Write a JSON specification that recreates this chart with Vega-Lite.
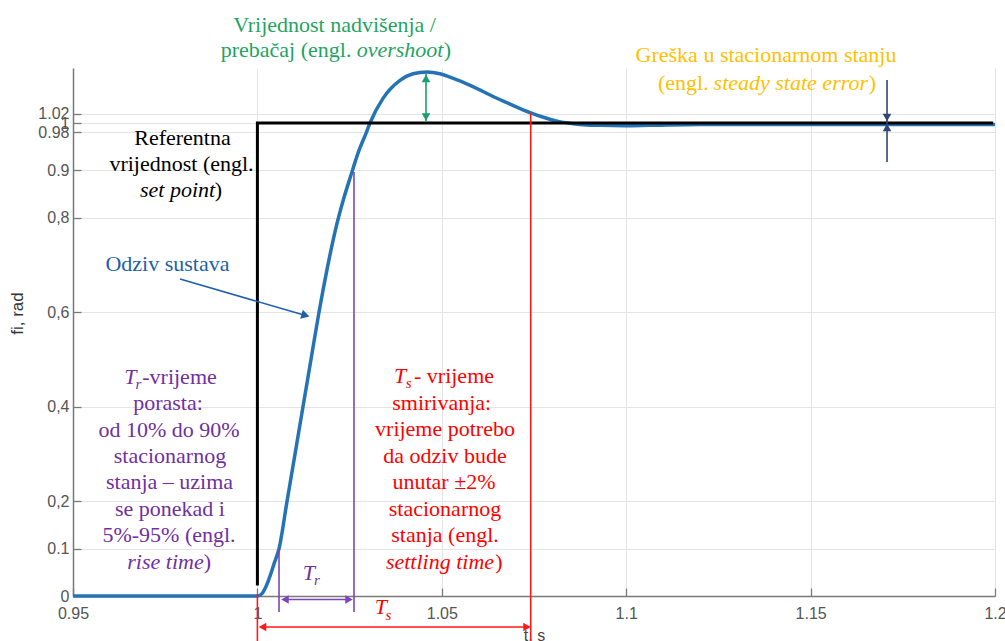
{
  "$schema": "https://vega.github.io/schema/vega-lite/v6.json",
  "width": 922,
  "height": 528,
  "autosize": {"type": "none"},
  "padding": {"left": 73, "top": 68, "right": 10, "bottom": 45},
  "background": "white",
  "config": {"view": {"stroke": null}},
  "datasets": {
    "resp": [
      {"t": 0.95, "v": 0}, {"t": 1.0, "v": 0}, {"t": 1.00125, "v": 0.005}, {"t": 1.00233, "v": 0.02},
      {"t": 1.00342, "v": 0.042}, {"t": 1.0045, "v": 0.068}, {"t": 1.00586, "v": 0.1}, {"t": 1.00803, "v": 0.2},
      {"t": 1.0102, "v": 0.3}, {"t": 1.01236, "v": 0.4}, {"t": 1.01453, "v": 0.5}, {"t": 1.0167, "v": 0.6},
      {"t": 1.01887, "v": 0.69}, {"t": 1.02104, "v": 0.77}, {"t": 1.02321, "v": 0.835}, {"t": 1.02538, "v": 0.89},
      {"t": 1.02755, "v": 0.942}, {"t": 1.02945, "v": 0.978}, {"t": 1.03053, "v": 1.0}, {"t": 1.03406, "v": 1.052},
      {"t": 1.03867, "v": 1.09}, {"t": 1.04219, "v": 1.104}, {"t": 1.04599, "v": 1.108}, {"t": 1.04951, "v": 1.104},
      {"t": 1.05222, "v": 1.097}, {"t": 1.05846, "v": 1.077}, {"t": 1.06388, "v": 1.056}, {"t": 1.06849, "v": 1.04},
      {"t": 1.07392, "v": 1.022}, {"t": 1.07798, "v": 1.011}, {"t": 1.08124, "v": 1.004}, {"t": 1.08747, "v": 0.997},
      {"t": 1.0929, "v": 0.995}, {"t": 1.09967, "v": 0.994}, {"t": 1.10645, "v": 0.995}, {"t": 1.12001, "v": 0.997},
      {"t": 1.13357, "v": 0.997}, {"t": 1.14713, "v": 0.997}, {"t": 1.17424, "v": 0.997}, {"t": 1.2, "v": 0.997}
    ],
    "ref": [
      {"t": 1.0, "v": 0.022, "i": 0}, {"t": 1.0, "v": 1.0, "i": 1}, {"t": 1.1995, "v": 1.0, "i": 2}
    ],
    "segs": [
      {"s": "green", "t": 1.04572, "v": 1.1036, "t2": 1.04572, "v2": 1.0021},
      {"s": "navy", "t": 1.17072, "v": 1.09091, "t2": 1.17072, "v2": 0.91755},
      {"s": "blue", "t": 0.97901, "v": 0.67019, "t2": 1.01237, "v2": 0.59471},
      {"s": "purple", "t": 1.00586, "v": 0.1, "t2": 1.00586, "v2": -0.03383},
      {"s": "purple", "t": 1.02619, "v": 0.89641, "t2": 1.02619, "v2": -0.03383},
      {"s": "purple", "t": 1.00749, "v": -0.0074, "t2": 1.02484, "v2": -0.0074},
      {"s": "red", "t": 1.0, "v": 0.0042, "t2": 1.0, "v2": -0.1},
      {"s": "red", "t": 1.07411, "v": 1.02114, "t2": 1.07411, "v2": -0.1},
      {"s": "red", "t": 1.00138, "v": -0.06554, "t2": 1.0731, "v2": -0.06554}
    ],
    "heads": [
      {"s": "green", "dir": "up", "t": 1.04572, "v": 1.09408},
      {"s": "green", "dir": "down", "t": 1.04572, "v": 1.01268},
      {"s": "navy", "dir": "down", "t": 1.17072, "v": 1.01163},
      {"s": "navy", "dir": "up", "t": 1.17072, "v": 0.99049},
      {"s": "purple", "dir": "left", "t": 1.00749, "v": -0.0074},
      {"s": "purple", "dir": "right", "t": 1.02484, "v": -0.0074},
      {"s": "red", "dir": "left", "t": 1.00138, "v": -0.06554},
      {"s": "red", "dir": "right", "t": 1.0731, "v": -0.06554}
    ],
    "blueHead": [{"t": 1.01304, "v": 0.59323}],
    "greenN": [
      {"t": 1.02091, "v": 1.19239, "txt": "Vrijednost nadvišenja /"},
      {"t": 1.00776, "v": 1.13953, "txt": "prebačaj (engl."},
      {"t": 1.05155, "v": 1.13953, "txt": ")"}
    ],
    "greenI": [{"t": 1.03867, "v": 1.13953, "txt": "overshoot"}],
    "blackN": [
      {"t": 0.97969, "v": 0.95349, "txt": "Referentna"},
      {"t": 0.97942, "v": 0.89852, "txt": "vrijednost (engl."},
      {"t": 0.98945, "v": 0.84355, "txt": ")"}
    ],
    "blackI": [{"t": 0.97834, "v": 0.84355, "txt": "set point"}],
    "blueN": [{"t": 0.97562, "v": 0.68605, "txt": "Odziv sustava"}],
    "purpleN": [
      {"t": 0.97888, "v": 0.4482, "txt": "-vrijeme"},
      {"t": 0.97576, "v": 0.39218, "txt": "porasta:"},
      {"t": 0.97603, "v": 0.33615, "txt": "od 10% do 90%"},
      {"t": 0.9763, "v": 0.28118, "txt": "stacionarnog"},
      {"t": 0.97617, "v": 0.22516, "txt": "stanja – uzima"},
      {"t": 0.9763, "v": 0.16913, "txt": "se ponekad i"},
      {"t": 0.97603, "v": 0.11311, "txt": "5%-95% (engl."},
      {"t": 0.98647, "v": 0.05708, "txt": ")"}
    ],
    "purpleI": [
      {"t": 0.96559, "v": 0.4482, "txt": "T"},
      {"t": 0.97508, "v": 0.05708, "txt": "rise time"},
      {"t": 1.01399, "v": 0.03383, "txt": "T"}
    ],
    "purpleS": [
      {"t": 0.96776, "v": 0.43763, "txt": "r"},
      {"t": 1.01616, "v": 0.02326, "txt": "r"}
    ],
    "redN": [
      {"t": 1.05331, "v": 0.45032, "txt": "- vrijeme"},
      {"t": 1.04997, "v": 0.39429, "txt": "smirivanja:"},
      {"t": 1.05087, "v": 0.33827, "txt": "vrijeme potrebo"},
      {"t": 1.05087, "v": 0.28224, "txt": "da odziv bude"},
      {"t": 1.0506, "v": 0.22622, "txt": "unutar ±2%"},
      {"t": 1.05087, "v": 0.16913, "txt": "stacionarnog"},
      {"t": 1.05087, "v": 0.11311, "txt": "stanja (engl."},
      {"t": 1.06551, "v": 0.05708, "txt": ")"}
    ],
    "redI": [
      {"t": 1.03867, "v": 0.45032, "txt": "T"},
      {"t": 1.04951, "v": 0.05708, "txt": "settling time"},
      {"t": 1.03351, "v": -0.03805, "txt": "T"}
    ],
    "redS": [
      {"t": 1.04103, "v": 0.43975, "txt": "s"},
      {"t": 1.03555, "v": -0.05074, "txt": "s"}
    ],
    "orangeN": [
      {"t": 1.13791, "v": 1.12896, "txt": "Greška u stacionarnom stanju"},
      {"t": 1.11548, "v": 1.07082, "txt": "(engl."},
      {"t": 1.16678, "v": 1.07082, "txt": ")"}
    ],
    "orangeI": [{"t": 1.14463, "v": 1.07082, "txt": "steady state error"}]
  },
  "encoding": {
    "x": {
      "field": "t", "type": "quantitative",
      "scale": {"domain": [0.95, 1.2], "nice": false, "zero": false},
      "axis": {
        "values": [0.95, 1, 1.05, 1.1, 1.15, 1.2],
        "labelExpr": "''+datum.value",
        "title": "t, s", "titleY": 31, "titleBaseline": "top",
        "titleFont": "Liberation Sans", "titleFontSize": 16, "titleFontWeight": "normal", "titleColor": "#444444",
        "labelFont": "Liberation Sans", "labelFontSize": 16, "labelColor": "#555555",
        "labelFlush": false, "labelOverlap": false, "labelPadding": 17,
        "tickSize": -8, "tickColor": "#7a7a7a", "tickWidth": 1.3,
        "domainColor": "#7a7a7a", "domainWidth": 1.5,
        "grid": true, "gridColor": "#e4e4e4", "gridWidth": 1
      }
    },
    "y": {
      "field": "v", "type": "quantitative",
      "scale": {"domain": [0, 1.11628], "nice": false, "zero": false},
      "axis": {
        "values": [0, 0.1, 0.2, 0.4, 0.6, 0.8, 0.9, 0.98, 1, 1.02],
        "labelExpr": "datum.value==0.2?'0,2':datum.value==0.4?'0,4':datum.value==0.6?'0,6':datum.value==0.8?'0,8':datum.value==1?'1\u00a0\u00a0':''+datum.value",
        "title": "fi, rad", "titleX": -56, "titleY": 245, "titleAngle": -90, "titleBaseline": "middle", "titleAlign": "center",
        "titleFont": "Liberation Sans", "titleFontSize": 17, "titleFontWeight": "normal", "titleColor": "#333333",
        "labelFont": "Liberation Sans", "labelFontSize": 16, "labelColor": "#555555",
        "labelOverlap": false, "labelPadding": 12,
        "tickSize": -8, "tickColor": "#7a7a7a", "tickWidth": 1.3,
        "domainColor": "#7a7a7a", "domainWidth": 1.5,
        "grid": true, "gridColor": "#e4e4e4", "gridWidth": 1
      }
    }
  },
  "layer": [
    {
      "data": {"name": "resp"},
      "mark": {"type": "line", "color": "#2474b5", "strokeWidth": 3.5, "interpolate": "monotone"},
      "encoding": {}
    },
    {
      "data": {"name": "ref"},
      "mark": {"type": "line", "color": "#000000", "strokeWidth": 3, "strokeJoin": "miter"},
      "encoding": {"order": {"field": "i", "type": "quantitative"}}
    },
    {
      "data": {"name": "segs"},
      "mark": {"type": "rule", "strokeWidth": 1.6},
      "encoding": {
        "x2": {"field": "t2"}, "y2": {"field": "v2"},
        "color": {"field": "s", "type": "nominal", "legend": null,
          "scale": {"domain": ["green", "navy", "blue", "purple", "red"], "range": ["#1a9f6a", "#2f4676", "#1f5fa8", "#7d45b8", "#ff1a1a"]}}
      }
    },
    {
      "data": {"name": "heads"},
      "mark": {"type": "point", "filled": true, "size": 75, "opacity": 1},
      "encoding": {
        "color": {"field": "s", "type": "nominal", "legend": null},
        "shape": {"field": "dir", "type": "nominal", "legend": null,
          "scale": {"domain": ["up", "down", "left", "right"], "range": ["triangle-up", "triangle-down", "triangle-left", "triangle-right"]}}
      }
    },
    {
      "data": {"name": "blueHead"},
      "mark": {"type": "point", "filled": true, "shape": "triangle-right", "size": 90, "angle": 16, "color": "#1f5fa8", "opacity": 1},
      "encoding": {}
    },
    {"data": {"name": "greenN"}, "mark": {"type": "text", "font": "Liberation Serif", "fontSize": 22, "baseline": "alphabetic", "align": "center", "color": "#1fa463"}, "encoding": {"text": {"field": "txt"}}},
    {"data": {"name": "greenI"}, "mark": {"type": "text", "font": "Liberation Serif", "fontSize": 22, "fontStyle": "italic", "baseline": "alphabetic", "align": "center", "color": "#1fa463"}, "encoding": {"text": {"field": "txt"}}},
    {"data": {"name": "blackN"}, "mark": {"type": "text", "font": "Liberation Serif", "fontSize": 22, "baseline": "alphabetic", "align": "center", "color": "#000000"}, "encoding": {"text": {"field": "txt"}}},
    {"data": {"name": "blackI"}, "mark": {"type": "text", "font": "Liberation Serif", "fontSize": 22, "fontStyle": "italic", "baseline": "alphabetic", "align": "center", "color": "#000000"}, "encoding": {"text": {"field": "txt"}}},
    {"data": {"name": "blueN"}, "mark": {"type": "text", "font": "Liberation Serif", "fontSize": 22, "baseline": "alphabetic", "align": "center", "color": "#1f5fa8"}, "encoding": {"text": {"field": "txt"}}},
    {"data": {"name": "purpleN"}, "mark": {"type": "text", "font": "Liberation Serif", "fontSize": 22, "baseline": "alphabetic", "align": "center", "color": "#7030a0"}, "encoding": {"text": {"field": "txt"}}},
    {"data": {"name": "purpleI"}, "mark": {"type": "text", "font": "Liberation Serif", "fontSize": 22, "fontStyle": "italic", "baseline": "alphabetic", "align": "center", "color": "#7030a0"}, "encoding": {"text": {"field": "txt"}}},
    {"data": {"name": "purpleS"}, "mark": {"type": "text", "font": "Liberation Serif", "fontSize": 15, "fontStyle": "italic", "baseline": "alphabetic", "align": "center", "color": "#7030a0"}, "encoding": {"text": {"field": "txt"}}},
    {"data": {"name": "redN"}, "mark": {"type": "text", "font": "Liberation Serif", "fontSize": 22, "baseline": "alphabetic", "align": "center", "color": "#ff0000"}, "encoding": {"text": {"field": "txt"}}},
    {"data": {"name": "redI"}, "mark": {"type": "text", "font": "Liberation Serif", "fontSize": 22, "fontStyle": "italic", "baseline": "alphabetic", "align": "center", "color": "#ff0000"}, "encoding": {"text": {"field": "txt"}}},
    {"data": {"name": "redS"}, "mark": {"type": "text", "font": "Liberation Serif", "fontSize": 15, "fontStyle": "italic", "baseline": "alphabetic", "align": "center", "color": "#ff0000"}, "encoding": {"text": {"field": "txt"}}},
    {"data": {"name": "orangeN"}, "mark": {"type": "text", "font": "Liberation Serif", "fontSize": 22, "baseline": "alphabetic", "align": "center", "color": "#ffc000"}, "encoding": {"text": {"field": "txt"}}},
    {"data": {"name": "orangeI"}, "mark": {"type": "text", "font": "Liberation Serif", "fontSize": 22, "fontStyle": "italic", "baseline": "alphabetic", "align": "center", "color": "#ffc000"}, "encoding": {"text": {"field": "txt"}}}
  ]
}
